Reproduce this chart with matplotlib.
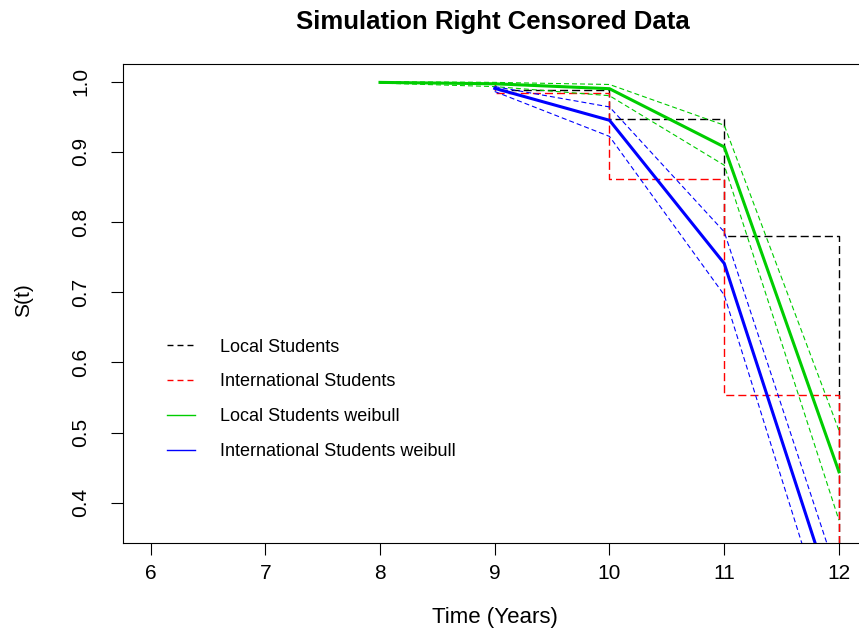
import matplotlib
matplotlib.use("Agg")
import matplotlib.pyplot as plt
from matplotlib.lines import Line2D

plt.rcParams['font.family'] = ['Liberation Sans', 'DejaVu Sans']

# Kaplan-Meier steps (time, survival after the drop)
km_t = [9, 9, 10, 11, 12]
km_local = [1.0, 0.988, 0.947, 0.780, 0.0]
km_intl = [1.0, 0.984, 0.862, 0.554, 0.0]

# weibull fits with bounds
wb_local_t = [8, 9, 10, 11, 12]
wb_local = [0.999, 0.997, 0.990, 0.907, 0.444]
wb_local_lo = [0.998, 0.993, 0.980, 0.881, 0.375]
wb_local_hi = [1.0, 0.999, 0.996, 0.938, 0.503]

wb_intl_t = [9, 10, 11, 12]
wb_intl = [0.9905, 0.945, 0.741, 0.238]
wb_intl_lo = [0.986, 0.922, 0.696, 0.173]
wb_intl_hi = [0.993, 0.964, 0.786, 0.290]

xticks = [6, 7, 8, 9, 10, 11, 12]
yticks = [0.4, 0.5, 0.6, 0.7, 0.8, 0.9, 1.0]
legend_labels = ["Local Students", "International Students",
                 "Local Students weibull", "International Students weibull"]

green = "#00CD00"

W, H = 859, 629
fig = plt.figure(figsize=(W / 100, H / 100), dpi=100)
# axes box runs past the right edge of the picture
ax = fig.add_axes([123 / W, (H - 542.7) / H, (866.5 - 123) / W, (542.7 - 64) / H])

ax.step(km_t, km_local, where='post', color='black', lw=1.0, dashes=(5.8, 2.9))
ax.step(km_t, km_intl, where='post', color='red', lw=1.0, dashes=(5.8, 2.9))

ax.plot(wb_local_t, wb_local, color=green, lw=2.2, solid_joinstyle='miter')
ax.plot(wb_local_t, wb_local_lo, color=green, lw=0.8, dashes=(4.5, 2.7))
ax.plot(wb_local_t, wb_local_hi, color=green, lw=0.8, dashes=(4.5, 2.7))

ax.plot(wb_intl_t, wb_intl, color='blue', lw=2.2, solid_joinstyle='miter')
ax.plot(wb_intl_t, wb_intl_lo, color='blue', lw=0.8, dashes=(4.5, 2.7))
ax.plot(wb_intl_t, wb_intl_hi, color='blue', lw=0.8, dashes=(4.5, 2.7))

ax.set_xlim(5.76, 12.24)
ax.set_ylim(0.343, 1.0252)
ax.set_xticks(xticks)
ax.set_yticks(yticks)
ax.set_xticklabels([str(v) for v in xticks])
ax.set_yticklabels(["%.1f" % v for v in yticks])
ax.tick_params(axis='both', direction='out', length=8.5, width=0.8, labelsize=15)
ax.tick_params(axis='x', pad=14)
ax.tick_params(axis='y', pad=22)
plt.setp(ax.get_xticklabels(), va='center')
plt.setp(ax.get_yticklabels(), rotation=90, va='center', ha='center')
for sp in ax.spines.values():
    sp.set_linewidth(0.8)

ax.set_xlabel("Time (Years)", fontsize=16, va='center')
ax.xaxis.set_label_coords(0.5, (542.7 - 618) / 478.7)
ax.set_ylabel("S(t)", fontsize=15, va='center')
ax.yaxis.set_label_coords((24 - 123) / 743.5, 0.507)

fig.text(493 / W, 1 - 22 / H, "Simulation Right Censored Data",
         fontsize=18.5, fontweight='bold', ha='center', va='center')

handles = [
    Line2D([], [], color='black', lw=1.0, dashes=(4.3, 2.9)),
    Line2D([], [], color='red', lw=1.0, dashes=(4.3, 2.9)),
    Line2D([], [], color=green, lw=1.0),
    Line2D([], [], color='blue', lw=1.0),
]
fig.legend(handles, legend_labels, loc='upper left',
           bbox_to_anchor=(167 / W, 1 - 338.5 / H), frameon=False,
           fontsize=13, handlelength=1.55, handletextpad=1.39,
           labelspacing=0.99, borderpad=0, borderaxespad=0)

fig.savefig("out.png", dpi=100)
